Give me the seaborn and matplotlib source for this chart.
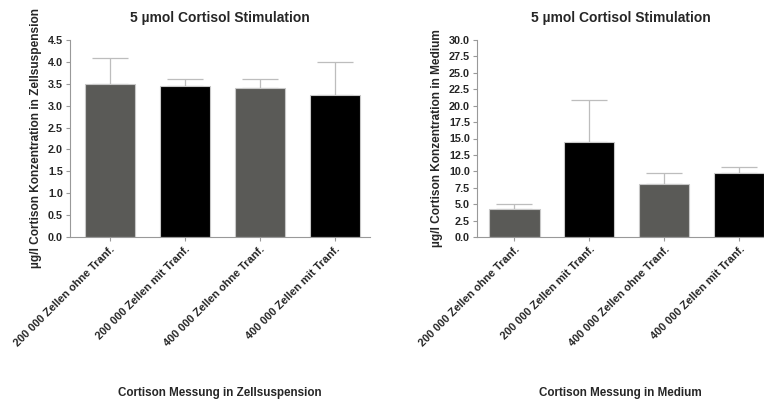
"""Two panels: cortisone concentration after 5 µmol cortisol stimulation."""

import matplotlib

matplotlib.use("Agg")
import matplotlib.pyplot as plt  # noqa: E402
import numpy as np  # noqa: E402
import pandas as pd  # noqa: E402
import seaborn as sns  # noqa: E402

CATEGORIES = [
    "200 000 Zellen ohne Tranf.",
    "200 000 Zellen mit Tranf.",
    "400 000 Zellen ohne Tranf.",
    "400 000 Zellen mit Tranf.",
]
SUSP_MEAN = [3.5, 3.45, 3.4, 3.25]
SUSP_ERR = [0.6, 0.15, 0.2, 0.75]
MED_MEAN = [4.3, 14.5, 8.1, 9.7]
MED_ERR = [0.8, 6.3, 1.7, 0.9]
COLORS = ["#5b5b56", "#000000", "#5b5b56", "#000000"]

sns.set_theme(style="white")
plt.rcParams["font.family"] = ["Liberation Sans", "DejaVu Sans"]
plt.rcParams["font.weight"] = "bold"

fig = plt.figure(figsize=(7.64, 4.0), dpi=100)
ax_l = fig.add_axes([0.0916, 0.4075, 0.3927, 0.4925])
ax_r = fig.add_axes([0.6243, 0.4075, 0.3757, 0.4925])

panels = [
    (ax_l, SUSP_MEAN, SUSP_ERR, (0, 4.5), np.arange(0, 4.51, 0.5),
     "µg/l Cortison Konzentration in Zellsuspension",
     "Cortison Messung in Zellsuspension", (-0.53, 3.47)),
    (ax_r, MED_MEAN, MED_ERR, (0, 30), np.arange(0, 30.1, 2.5),
     "µg/l Cortison Konzentration in Medium",
     "Cortison Messung in Medium", (-0.5, 3.33)),
]

for ax, mean, err, ylim, yticks, ylabel, xlabel, xlim in panels:
    df = pd.DataFrame({"cat": CATEGORIES, "val": mean})
    sns.barplot(data=df, x="cat", y="val", hue="cat", palette=COLORS,
                legend=False, width=0.67, edgecolor="#c8c8c8", linewidth=0.8,
                ax=ax, zorder=2)
    ax.errorbar(np.arange(len(mean)), mean, yerr=[np.zeros(len(err)), err],
                fmt="none", ecolor="#bdbdbd", elinewidth=0.9, capsize=13,
                capthick=0.9, zorder=1)
    ax.set_ylim(*ylim); ax.set_xlim(*xlim)
    ax.set_yticks(yticks)
    ax.set_yticklabels([f"{t:.1f}" for t in yticks], fontsize=7.8, fontweight="bold")
    ax.set_xticks(range(len(CATEGORIES)))
    ax.set_xticklabels(CATEGORIES, rotation=45, ha="right", rotation_mode="anchor",
                       fontsize=7.9, fontweight="bold")
    ax.tick_params(axis="both", direction="out", length=3, width=0.8,
                   color="#999999", pad=2, left=True, bottom=True)
    ax.set_ylabel(ylabel, fontsize=8.6, fontweight="bold", labelpad=4)
    ax.set_xlabel(xlabel, fontsize=8.4, fontweight="bold", labelpad=28)
    ax.set_title("5 µmol Cortisol Stimulation", fontsize=10, fontweight="bold", pad=13)
    for side in ("top", "right"):
        ax.spines[side].set_visible(False)
    for side in ("left", "bottom"):
        ax.spines[side].set_color("#999999"); ax.spines[side].set_linewidth(0.8)

fig.savefig("out.png", dpi=100)
plt.close(fig)
